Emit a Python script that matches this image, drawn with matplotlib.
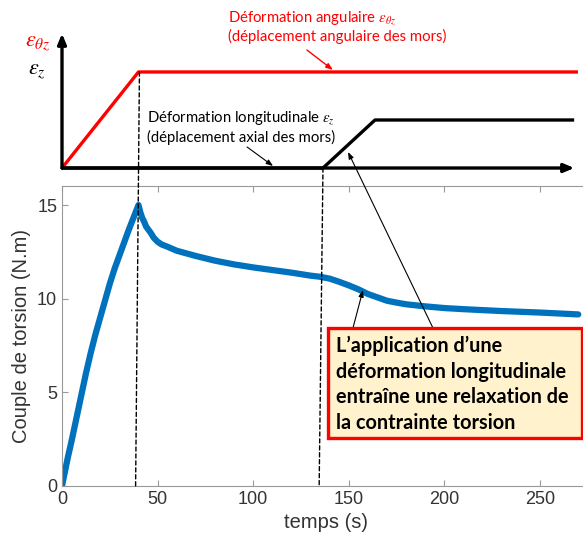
import matplotlib.pyplot as plt
from matplotlib.patches import Rectangle, ConnectionPatch

plt.rcParams['mathtext.fontset'] = 'stix'

# torque curve
t_load = [0, 1, 3, 5, 7.5, 10, 12.5, 15, 17.5, 20, 22.5, 25, 27.5, 30, 32.5, 35,
          37.5, 40]
c_load = [0, 0.5, 1.5, 2.4, 3.6, 4.8, 6.0, 7.1, 8.1, 9.0, 9.9, 10.8, 11.6, 12.3,
          13.0, 13.7, 14.35, 15.0]
t_relax = [40, 41, 42, 43, 44, 46.5, 48, 50, 52, 55, 60, 70, 80, 90, 100, 110, 120,
           130, 135, 140, 145, 150, 155, 160, 165, 170, 175, 180, 190, 200, 210,
           220, 230, 240, 250, 260, 270]
c_relax = [15.0, 14.6, 14.3, 14.1, 13.85, 13.5, 13.25, 13.04, 12.9, 12.78, 12.56,
           12.28, 12.03, 11.83, 11.67, 11.53, 11.39, 11.23, 11.17, 11.07, 10.9,
           10.71, 10.5, 10.25, 10.07, 9.89, 9.79, 9.7, 9.59, 9.5, 9.44, 9.39, 9.34,
           9.3, 9.26, 9.21, 9.16]

# imposed strains (schematic)
t_ang = [0, 40, 269]
e_ang = [0, 1, 1]
t_long = [0, 136.5, 163.7, 267]
e_long = [0, 0, 0.5, 0.5]

xticks = [0, 50, 100, 150, 200, 250]
yticks = [0, 5, 10, 15]

W, H = 583, 541
fig = plt.figure(figsize=(W/100, H/100), dpi=100)

def frac(x0, y0, x1, y1):
    # pixel box -> figure fraction [left, bottom, width, height]
    return [x0/W, (H-y1)/H, (x1-x0)/W, (y1-y0)/H]

ax = fig.add_axes(frac(62, 186.3, 589.7, 486))
ax_top = fig.add_axes(frac(62, 28, 589.7, 178))

blue = '#0072BD'
ax.plot(t_load + t_relax[1:], c_load + c_relax[1:], color=blue, lw=4.5,
        solid_capstyle='round', solid_joinstyle='round')
ax.set_xlim(0, 276)
ax.set_ylim(0, 16)
ax.set_xticks(xticks)
ax.set_yticks(yticks)
ax.tick_params(direction='in', length=4, colors='#999999', labelcolor='#333333',
               labelsize=13, top=True, right=True,
               labelfontfamily='Liberation Sans')
for s in ax.spines.values():
    s.set_color('#999999')
    s.set_linewidth(0.8)
ax.set_xlabel('temps (s)', fontsize=14.5, color='#333333',
              family='Liberation Sans', labelpad=4)
ax.set_ylabel('Couple de torsion (N.m)', fontsize=14.5, color='#333333',
              family='Liberation Sans', labelpad=4)

# schematic of imposed strains
ax_top.set_xlim(0, 276)
ax_top.set_ylim(-0.104, 1.458)
ax_top.axis('off')
ax_top.plot(t_ang, e_ang, color='red', lw=2.4, zorder=3)
ax_top.plot(t_long, e_long, color='black', lw=2.4, zorder=3)
ax_top.annotate('', xy=(0, 1.4), xytext=(0, 0),
                arrowprops=dict(arrowstyle='-|>,head_width=0.25,head_length=0.6',
                                color='black', lw=2.4, shrinkA=0, shrinkB=0))
ax_top.annotate('', xy=(268, 0), xytext=(0, 0),
                arrowprops=dict(arrowstyle='-|>,head_width=0.25,head_length=0.6',
                                color='black', lw=2.4, shrinkA=0, shrinkB=0))
ax_top.text(-12.5, 1.30, r'$\varepsilon_{\theta z}$', color='red', fontsize=16,
            ha='center', va='center')
ax_top.text(-13, 1.01, r'$\varepsilon_{z}$', color='black', fontsize=16,
            ha='center', va='center')

font = 'Lato'
ax_top.text(86.8, 1.5625, r'Déformation angulaire $\varepsilon_{\theta z}$',
            color='red', fontsize=10.7, family=font, ha='left', va='center')
ax_top.text(86.8, 1.375, '(déplacement angulaire des mors)', color='red',
            fontsize=10.7, family=font, ha='left', va='center')
ax_top.annotate('', xy=(141.7, 1.021), xytext=(128.1, 1.229),
                arrowprops=dict(arrowstyle='-|>,head_width=0.15,head_length=0.4',
                                color='red', lw=1, shrinkA=0, shrinkB=0))
ax_top.text(44.5, 0.521, r'Déformation longitudinale $\varepsilon_z$', color='black',
            fontsize=10.7, family=font, ha='left', va='center')
ax_top.text(44.5, 0.323, '(déplacement axial des mors)', color='black',
            fontsize=10.7, family=font, ha='left', va='center')
ax_top.annotate('', xy=(110.4, 0.021), xytext=(96.8, 0.219),
                arrowprops=dict(arrowstyle='-|>,head_width=0.15,head_length=0.4',
                                color='black', lw=0.8, shrinkA=0, shrinkB=0))

# dashed guides from the strain schematic down to the torque axis
for (xa, ya), xb in [((40.5, 1), 38.5), ((136.5, 0), 134.5)]:
    cp = ConnectionPatch(xyA=(xa, ya), coordsA=ax_top.transData,
                         xyB=(xb, 0), coordsB=ax.transData,
                         color='black', lw=1, ls=(0, (3, 2)), zorder=1)
    fig.add_artist(cp)

# annotation box
box = Rectangle((328/W, (H-438)/H), (582-328)/W, 110/H, transform=fig.transFigure,
                facecolor='#FFF2CC', edgecolor='red', lw=2.4, zorder=5)
fig.add_artist(box)
lines = ['L\u2019application d\u2019une', 'déformation longitudinale',
         'entraîne une relaxation de', 'la contrainte torsion']
for i, s in enumerate(lines):
    fig.text(336/W, (H-346-i*25.7)/H, s, fontsize=14.3, fontweight='bold',
             family=font, ha='left', va='center', zorder=6)

ax.annotate('', xy=(157.4, 10.46), xytext=(152.2, 8.44),
            arrowprops=dict(arrowstyle='-|>,head_width=0.15,head_length=0.4',
                            color='black', lw=0.8, shrinkA=0, shrinkB=0))
ax.annotate('', xy=(149.6, 0.167), xycoords=ax_top.transData,
            xytext=(194, 8.44), textcoords=ax.transData,
            arrowprops=dict(arrowstyle='-|>,head_width=0.15,head_length=0.4',
                            color='black', lw=0.8, shrinkA=0, shrinkB=0))

fig.savefig('out.png', dpi=100)
